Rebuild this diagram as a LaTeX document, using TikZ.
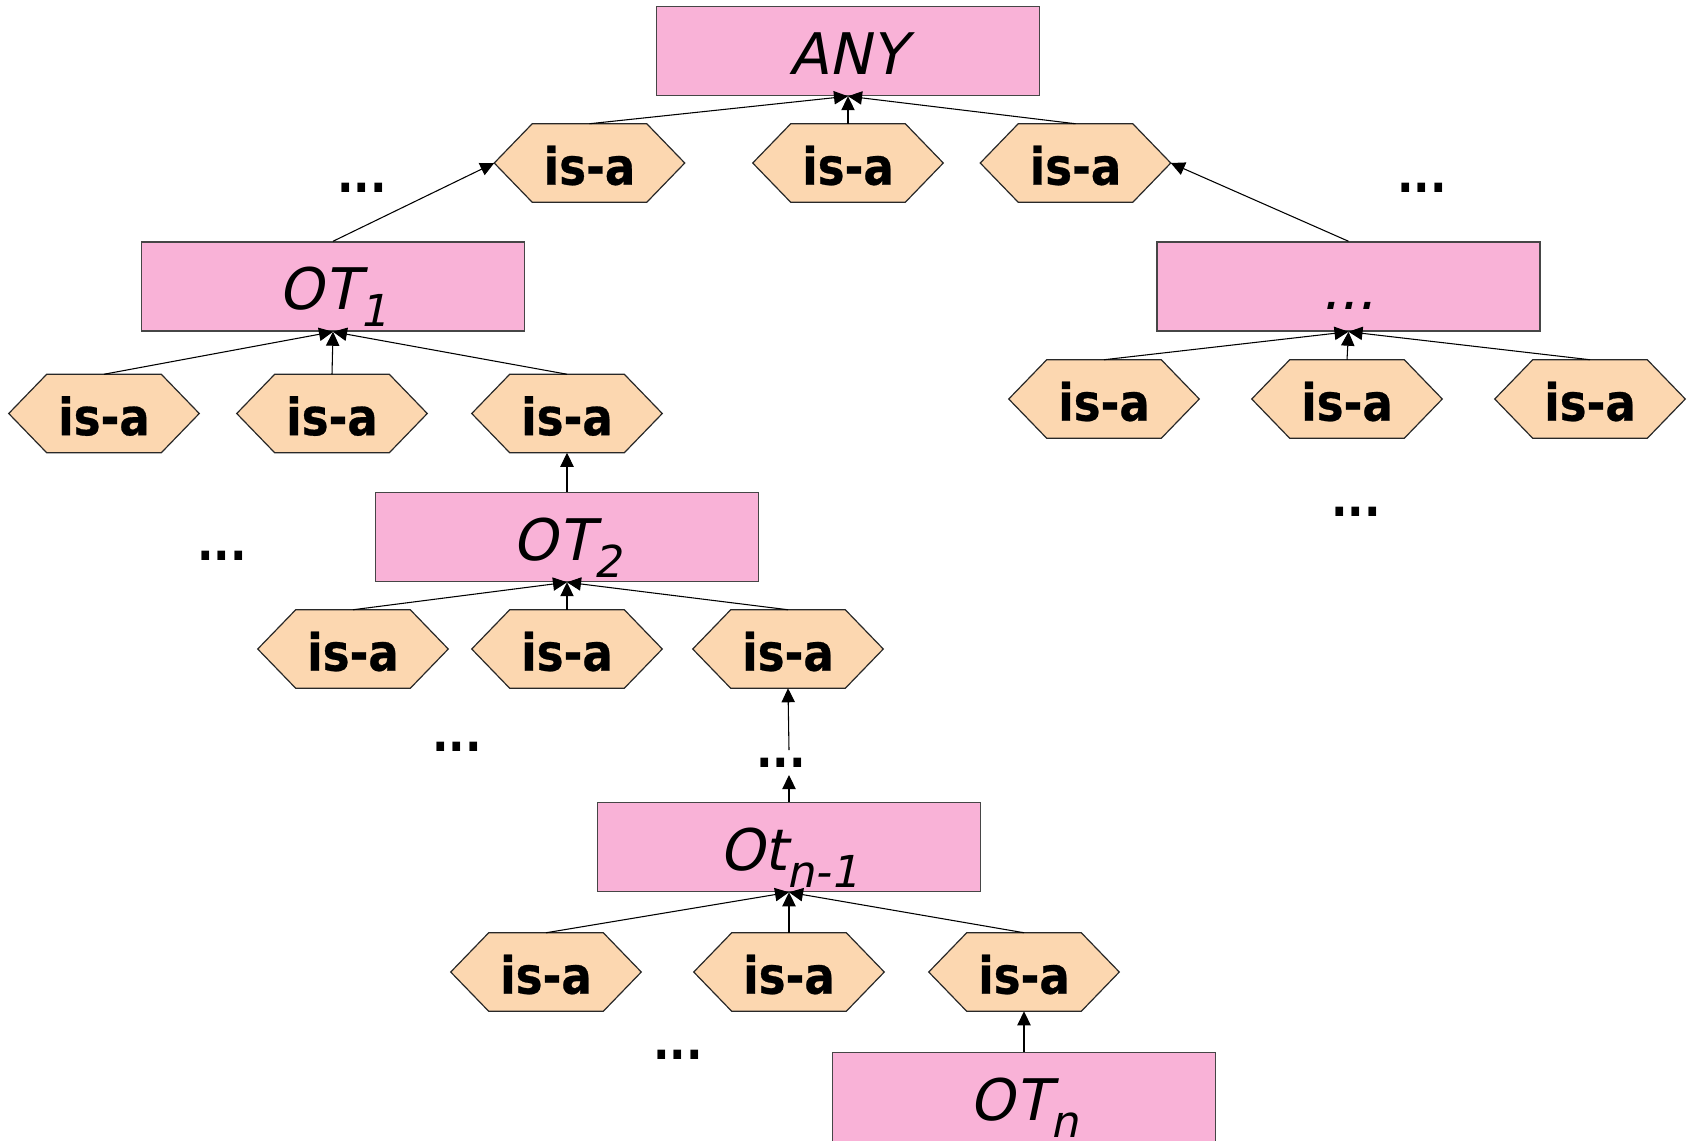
\documentclass[tikz,border=0pt]{standalone}
\usepackage{fontspec}
\usetikzlibrary{arrows.meta,backgrounds}
\newfontfamily\lblfont{DejaVu Sans}[FakeSlant=0.21]
\newfontfamily\isafont{DejaVu Sans}[FakeStretch=0.88,FakeBold=0.5]
\newfontfamily\dotfont{DejaVu Sans}[FakeStretch=0.88]
\definecolor{boxpink}{RGB}{249,178,215}
\definecolor{hexpeach}{RGB}{252,215,176}
\definecolor{boxedge}{RGB}{70,70,70}
\definecolor{hexedge}{RGB}{40,40,40}
\newcommand\lowsub[1]{\raisebox{-0.3em}{\fontsize{33}{33}\selectfont #1}}
\begin{document}
\begin{tikzpicture}[x=0.75pt,y=-0.75pt,
  otbox/.style={draw=boxedge, line width=1.1pt, fill=boxpink,
    minimum width=287.25pt, minimum height=66.75pt, inner sep=0pt,
    text height=40pt, text depth=5.5pt,
    font=\lblfont\fontsize{43}{43}\selectfont},
  isanode/.style={minimum width=142.5pt, minimum height=58.5pt, inner sep=0pt,
    text height=34pt, text depth=1.5pt,
    font=\isafont\bfseries\fontsize{38.5}{38.5}\selectfont},
  hexshape/.style={fill=hexpeach, draw=hexedge, line width=0.9pt, line join=miter},
  dotsnode/.style={anchor=base, inner sep=0pt,
    font=\dotfont\bfseries\fontsize{37}{37}\selectfont},
  link/.style={draw=black, line width=0.8pt, -{Triangle[length=10.5pt,width=10pt]}},
]
\useasboundingbox (0,0) rectangle (1694,1140);
\clip (0,0) rectangle (1694,1140);

% boxes
\node[otbox] (any) at (848,51) {ANY};
\node[otbox] (ot1) at (333,286.5) {OT\lowsub{1}};
\node[otbox] (rbox) at (1348.5,286.5) {...};
\node[otbox] (ot2) at (567,537) {OT\lowsub{2}};
\node[otbox] (otn1) at (789,847) {Ot\lowsub{n-1}};
\node[otbox] (otn) at (1024,1097) {OT\lowsub{n}};

% is-a hexagons
\node[isanode] (t1) at (589.5,163) {is-a};
\node[isanode] (t2) at (848,163) {is-a};
\node[isanode] (t3) at (1075.5,163) {is-a};
\node[isanode] (a1) at (104,413.5) {is-a};
\node[isanode] (a2) at (332,413.5) {is-a};
\node[isanode] (a3) at (567,413.5) {is-a};
\node[isanode] (r1) at (1104,399) {is-a};
\node[isanode] (r2) at (1347,399) {is-a};
\node[isanode] (r3) at (1590,399) {is-a};
\node[isanode] (b1) at (353,649) {is-a};
\node[isanode] (b2) at (567,649) {is-a};
\node[isanode] (b3) at (788,649) {is-a};
\node[isanode] (c1) at (546,972) {is-a};
\node[isanode] (c2) at (789,972) {is-a};
\node[isanode] (c3) at (1024,972) {is-a};

\begin{scope}[on background layer]
\foreach \n in {t1,t2,t3,a1,a2,a3,r1,r2,r3,b1,b2,b3,c1,c2,c3}{
  \path[hexshape] (\n.west) -- ([xshift=28.5pt]\n.north west) -- ([xshift=-28.5pt]\n.north east)
    -- (\n.east) -- ([xshift=-28.5pt]\n.south east) -- ([xshift=28.5pt]\n.south west) -- cycle;
}
\end{scope}

% ellipsis labels
\node[dotsnode] (d1) at (362,192) {...};
\node[dotsnode] (d2) at (1422,192) {...};
\node[dotsnode] (d3) at (1356,516) {...};
\node[dotsnode] (d4) at (222,560) {...};
\node[dotsnode] (d5) at (457,751) {...};
\node[dotsnode] (d6) at (781,767) {...};
\node[dotsnode] (d7) at (678,1059) {...};
\coordinate (m1) at (789,775);
\coordinate (m2) at (789,750);

% connectors
\foreach \n in {t1,t2,t3} \draw[link] (\n.north) -- (any.south);
\draw[link] (ot1.north) -- (t1.west);
\draw[link] (rbox.north) -- (t3.east);
\foreach \n in {a1,a2,a3} \draw[link] (\n.north) -- (ot1.south);
\foreach \n in {r1,r2,r3} \draw[link] (\n.north) -- (rbox.south);
\draw[link] (ot2.north) -- (a3.south);
\foreach \n in {b1,b2,b3} \draw[link] (\n.north) -- (ot2.south);
\draw[link] (m2) -- (b3.south);
\draw[link] (otn1.north) -- (m1);
\foreach \n in {c1,c2,c3} \draw[link] (\n.north) -- (otn1.south);
\draw[link] (otn.north) -- (c3.south);
\end{tikzpicture}
\end{document}
